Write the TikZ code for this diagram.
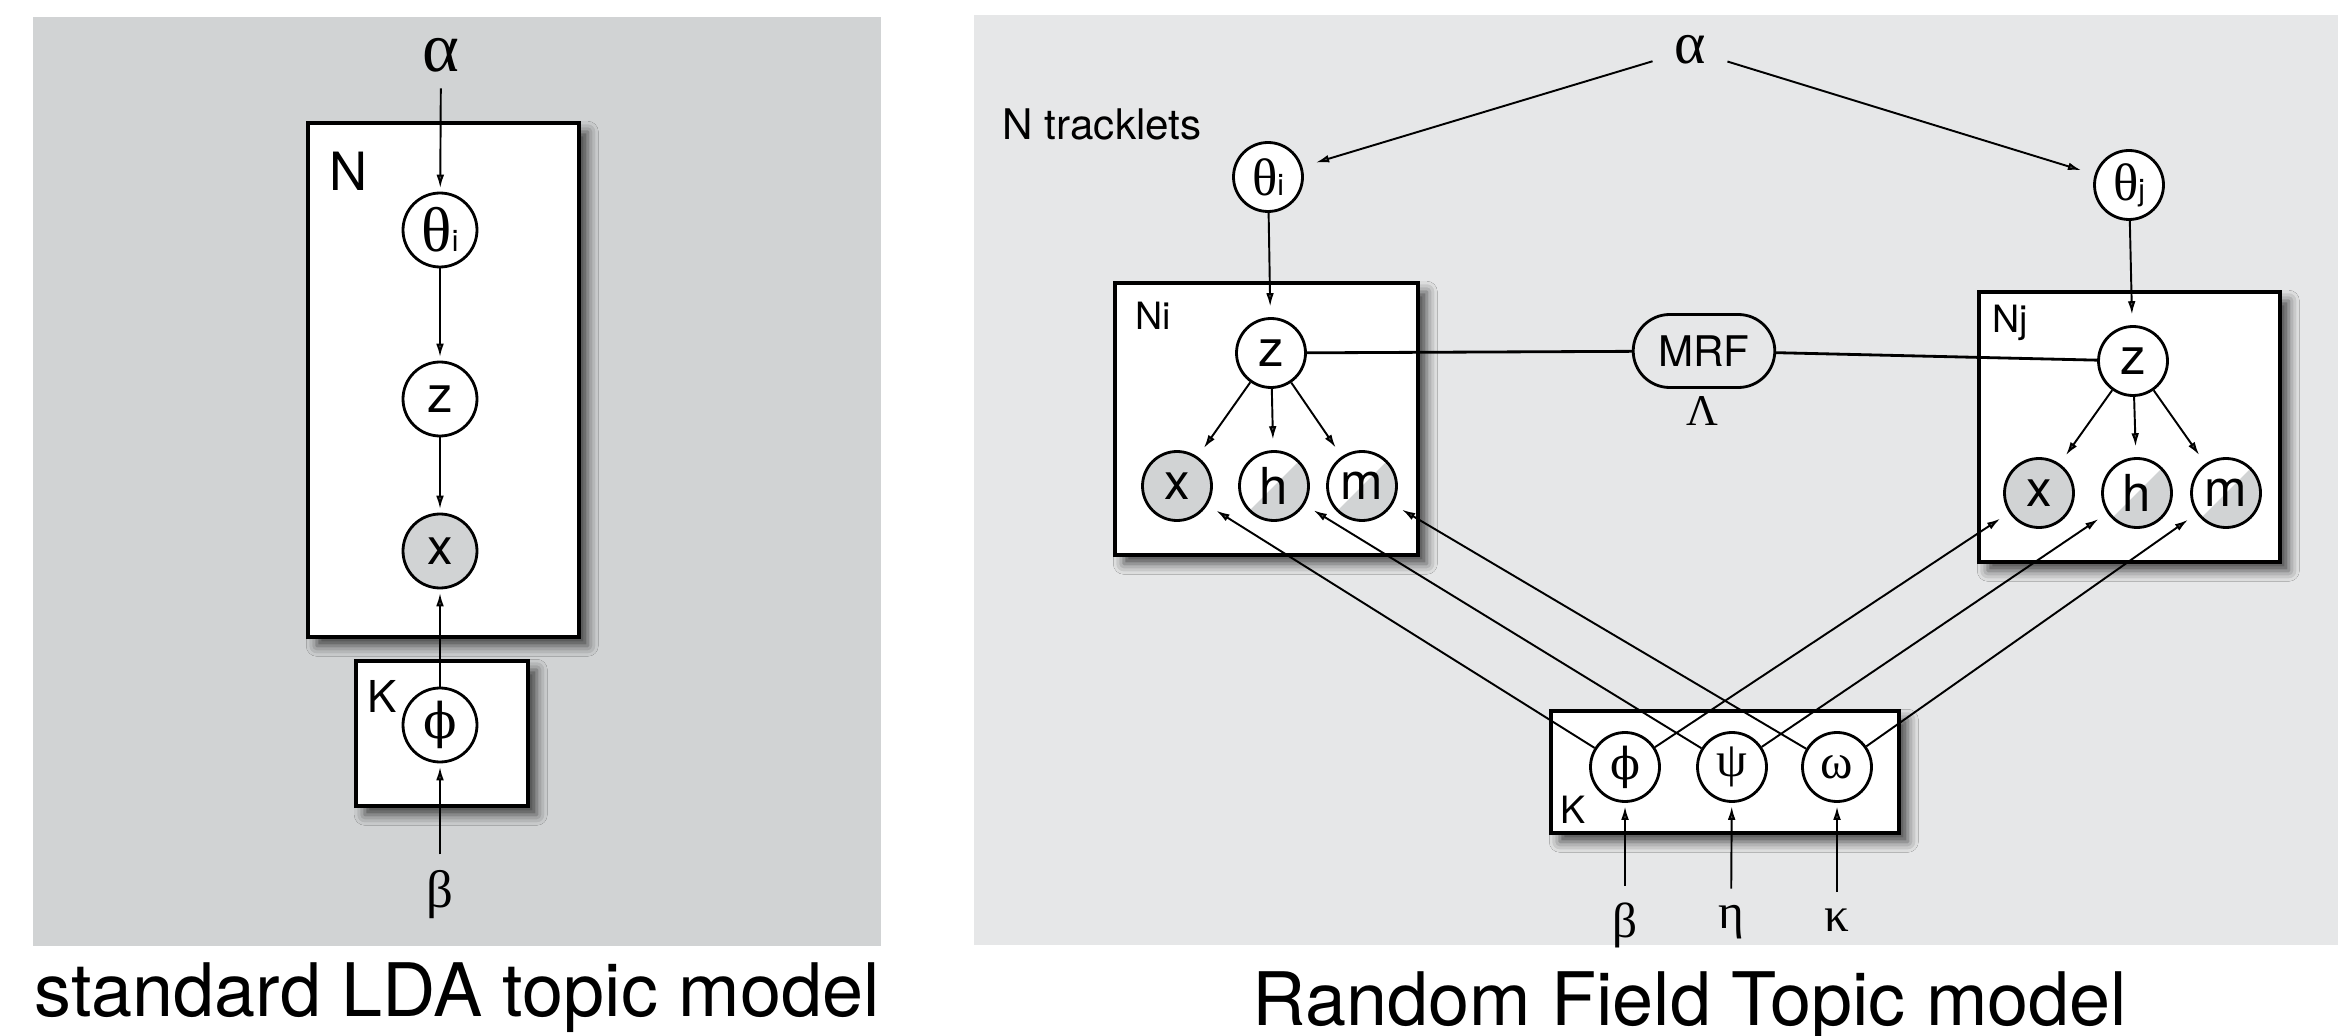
\documentclass[tikz,border=0pt]{standalone}
\usepackage{fontspec}
\setmainfont{TeX Gyre Heros}
\newfontfamily\grk{Liberation Serif}
\newfontfamily\phigrk{DejaVu Serif}
\usetikzlibrary{arrows.meta,shapes.misc,shadows.blur}
\definecolor{bgleft}{HTML}{D1D3D4}
\definecolor{bgright}{HTML}{E6E7E8}
\definecolor{obs}{HTML}{D1D3D4}
\newcommand{\setsz}[1]{\fontsize{#1}{#1}\selectfont}
\newcommand{\thetasub}[2]{{\grk\setsz{#1}θ}{\setsz{8.5pt}#2}}

\begin{document}
\begin{tikzpicture}[x=0.1mm, y=-0.1mm,
        rv/.style={circle, draw, line width=0.8pt, fill=white, minimum size=6.9mm, inner sep=0pt, font=\setsz{14.5pt}},
        bigrv/.style={rv, minimum size=7.4mm},
        obsrv/.style={rv, fill=obs},
        halfrv/.style={rv, path picture={\fill[obs] (path picture bounding box.south west) -- (path picture bounding box.north east) -- (path picture bounding box.south east) -- cycle;}},
        plate/.style={draw, line width=1pt, fill=white, blur shadow={shadow xshift=2.5pt, shadow yshift=-2.5pt, shadow blur radius=3pt, shadow opacity=70}},
        param/.style={inner sep=4.5pt, font=\grk\setsz{13pt}},
        lbl/.style={inner sep=0pt, anchor=base west},
        arr/.style={-{Latex[length=3.8pt,width=2.2pt]}, line width=0.55pt, shorten >=1pt},
        gaparr/.style={arr, shorten >=3pt},
        link/.style={line width=0.8pt}]
    \useasboundingbox (0,0) rectangle (2338,1036);
    \fill[white] (0,0) rectangle (2338,1036);
    \fill[bgleft] (33,17) rectangle (881,946);
    \fill[bgright] (974,15) rectangle (2338,945);

    \draw[plate] (308,123) rectangle (579,637);
    \draw[plate] (356,661) rectangle (528,806);
    \node[lbl, font=\setsz{15pt}] (labN) at (329,191) {N};
    \node[lbl, font=\setsz{12.5pt}] (labKL) at (367,713) {K};
    \node[param, font=\grk\setsz{20pt}] (alphaL) at (441,55) {α};
    \node[bigrv] (thetaL) at (440,230) {\thetasub{18pt}{i}};
    \node[bigrv] (zL) at (440,399) {z};
    \node[bigrv, fill=obs] (xL) at (440,551) {x};
    \node[bigrv, font=\phigrk\setsz{14pt}] (phiL) at (440,725) {ϕ};
    \node[param, font=\grk\setsz{15pt}] (betaL) at (440,895) {β};
    \draw[arr] (alphaL) -- (thetaL);
    \draw[arr] (thetaL) -- (zL);
    \draw[arr] (zL) -- (xL);
    \draw[arr] (phiL) -- (xL);
    \draw[arr] (betaL) -- (phiL);
    \node[anchor=base, font=\setsz{21pt}] (capL) at (457,1016) {standard LDA topic model};

    \draw[plate] (1115,283) rectangle (1418,555);
    \draw[plate] (1979,292) rectangle (2280,562);
    \draw[plate] (1551,711) rectangle (1899,833);
    \node[lbl, font=\setsz{12pt}] (labTr) at (1002,140) {N tracklets};
    \node[lbl, font=\setsz{10.7pt}] (labNi) at (1135,330) {Ni};
    \node[lbl, font=\setsz{10.7pt}] (labNj) at (1992,333) {Nj};
    \node[lbl, font=\setsz{10.7pt}] (labK) at (1560,824) {K};
    \node[param, inner sep=6pt, font=\grk\setsz{17pt}] (alpha) at (1690,50) {α};
    \node[rv] (thetai) at (1268,177) {\thetasub{15pt}{i}};
    \node[rv] (thetaj) at (2129,185) {\thetasub{15pt}{j}};
    \node[rv] (zi) at (1271,353) {z};
    \node[obsrv] (xi) at (1177,486) {x};
    \node[halfrv] (hi) at (1274,486) {h};
    \node[halfrv] (mi) at (1362,486) {m};
    \node[rv] (zj) at (2133,361) {z};
    \node[obsrv] (xj) at (2039,493) {x};
    \node[halfrv] (hj) at (2137,493) {h};
    \node[halfrv] (mj) at (2226,493) {m};
    \node[draw, rounded rectangle, line width=0.8pt, fill=bgright, minimum width=16.5mm, minimum height=7.3mm, font=\setsz{12pt}] (mrf) at (1704,351) {MRF};
    \node[font=\grk\setsz{12.5pt}] (lambda) at (1702,411) {Λ};
    \node[rv, font=\phigrk\setsz{12.5pt}] (phi) at (1625,767) {ϕ};
    \node[rv, font=\grk\setsz{14pt}] (psi) at (1732,767) {ψ};
    \node[rv, font=\grk\setsz{14pt}] (omega) at (1837,767) {ω};
    \node[param, font=\grk\setsz{14pt}] (beta) at (1625,925) {β};
    \node[param, font=\grk\setsz{14pt}] (eta) at (1731,922) {η};
    \node[param, font=\grk\setsz{14pt}] (kappa) at (1837,920) {κ};
    \draw[arr, shorten >=4pt] (alpha) -- (thetai);
    \draw[arr, shorten >=4pt] (alpha) -- (thetaj);
    \draw[gaparr] (thetai) -- (zi);
    \draw[gaparr] (thetaj) -- (zj);
    \draw[link] (zi) -- (mrf) -- (zj);
    \foreach \v in {xi,hi,mi} \draw[gaparr] (zi) -- (\v);
    \foreach \v in {xj,hj,mj} \draw[gaparr] (zj) -- (\v);
    \draw[gaparr] (phi) -- (xi);
    \draw[gaparr] (phi) -- (xj);
    \draw[gaparr] (psi) -- (hi);
    \draw[gaparr] (psi) -- (hj);
    \draw[gaparr] (omega) -- (mi);
    \draw[gaparr] (omega) -- (mj);
    \draw[arr] (beta) -- (phi);
    \draw[arr] (eta) -- (psi);
    \draw[arr] (kappa) -- (omega);
    \node[anchor=base, font=\setsz{21pt}] (capR) at (1690,1025) {Random Field Topic model};
\end{tikzpicture}
\end{document}
